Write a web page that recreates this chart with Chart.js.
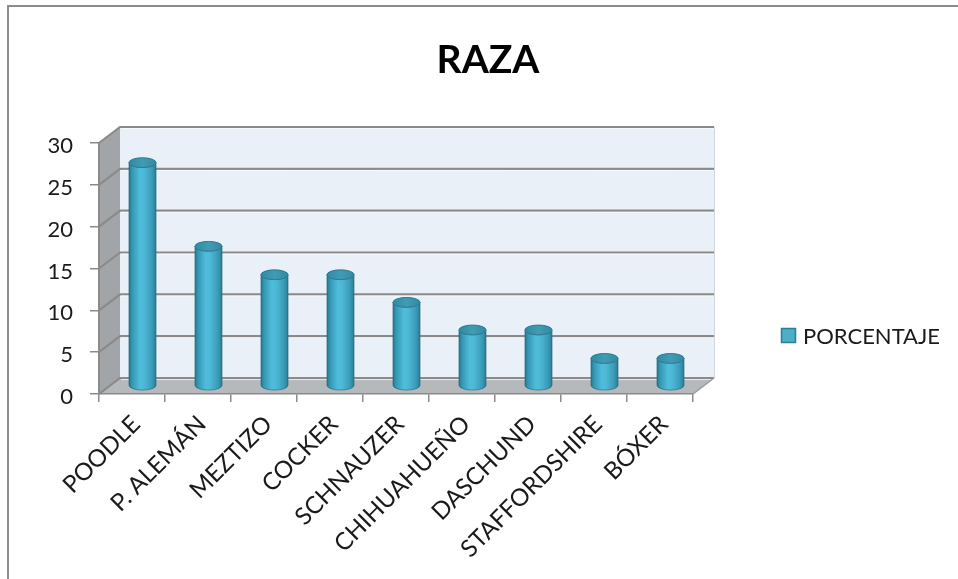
<!DOCTYPE html>
<html>
<head>
<meta charset="utf-8">
<script src="https://cdn.jsdelivr.net/npm/chart.js@4/dist/chart.umd.min.js"></script>
<style>
  html, body { margin: 0; padding: 0; background: #fff; }
  #wrap { position: relative; width: 958px; height: 579px; }
</style>
</head>
<body>
<div id="wrap"><canvas id="c" width="958" height="579"></canvas></div>
<script>
// Chart content
const chartTitle = 'RAZA';
const seriesName = 'PORCENTAJE';
const breeds = ['POODLE', 'P. ALEMÁN', 'MEZTIZO', 'COCKER', 'SCHNAUZER', 'CHIHUAHUEÑO', 'DASCHUND', 'STAFFORDSHIRE', 'BÓXER'];
const percentages = [26.7, 16.7, 13.3, 13.3, 10, 6.7, 6.7, 3.3, 3.3];
const yMin = 0;
const yMax = 30;
const yStep = 5;

// 3D depth of the plot box (back wall offset from the front plane)
const DEPTH_X = 21;
const DEPTH_Y = -16;
const FONT = 'Lato, "Liberation Sans", sans-serif';
const AXIS_GRAY = '#8a8a8a';
const BAR_COLOR = '#4bafc8';

function fillPoly(ctx, pts, color) {
  ctx.beginPath();
  ctx.moveTo(pts[0][0], pts[0][1]);
  for (let i = 1; i < pts.length; i++) ctx.lineTo(pts[i][0], pts[i][1]);
  ctx.closePath();
  ctx.fillStyle = color;
  ctx.fill();
}

// Frame, back wall, side wall, floor and gridlines
const box3d = {
  id: 'box3d',
  beforeDraw(chart) {
    const { ctx, chartArea: a, scales: { y } } = chart;
    const dx = DEPTH_X, dy = DEPTH_Y;
    ctx.save();
    ctx.fillStyle = '#ffffff';
    ctx.fillRect(0, 0, chart.width, chart.height);

    // outer frame (top and left edges)
    ctx.fillStyle = '#8c8c8c';
    ctx.fillRect(7, 5, chart.width - 7, 2);
    ctx.fillRect(7, 5, 2, chart.height - 5);

    // back wall
    ctx.fillStyle = '#e9f0f7';
    ctx.fillRect(a.left + dx, a.top + dy, a.right - a.left, a.bottom - a.top);
    // side wall
    fillPoly(ctx, [[a.left, a.top], [a.left + dx, a.top + dy], [a.left + dx, a.bottom + dy], [a.left, a.bottom]], '#a1a5a8');
    // floor
    fillPoly(ctx, [[a.left, a.bottom], [a.left + dx, a.bottom + dy], [a.right + dx, a.bottom + dy], [a.right, a.bottom]], '#b5b9bc');

    // gridlines across the side wall and back wall
    ctx.lineCap = 'butt';
    y.ticks.forEach(t => {
      const py = y.getPixelForValue(t.value);
      ctx.strokeStyle = '#8a8a8a';
      ctx.lineWidth = 2.2;
      ctx.beginPath();
      ctx.moveTo(a.left, py);
      ctx.lineTo(a.left + dx, py + dy);
      ctx.lineTo(a.right + dx, py + dy);
      ctx.stroke();
      ctx.strokeStyle = 'rgba(255,255,255,0.7)';
      ctx.lineWidth = 1;
      ctx.beginPath();
      ctx.moveTo(a.left + dx + 1, py + dy + 1.6);
      ctx.lineTo(a.right + dx, py + dy + 1.6);
      ctx.stroke();
    });

    // right edge of back wall and floor
    ctx.strokeStyle = '#cfd6dd';
    ctx.lineWidth = 1;
    ctx.beginPath();
    ctx.moveTo(a.right + dx + 0.5, a.top + dy);
    ctx.lineTo(a.right + dx + 0.5, a.bottom + dy);
    ctx.stroke();
    ctx.strokeStyle = '#9a9a9a';
    ctx.lineWidth = 1.5;
    ctx.beginPath();
    ctx.moveTo(a.right + dx, a.bottom + dy);
    ctx.lineTo(a.right, a.bottom);
    ctx.stroke();
    ctx.restore();
  },
  // bars are rendered as cylinders below
  beforeDatasetDraw() {
    return false;
  },
  afterDatasetsDraw(chart) {
    const { ctx } = chart;
    const meta = chart.getDatasetMeta(0);
    ctx.save();
    meta.data.forEach(bar => {
      const { x, y, base, width } = bar.getProps(['x', 'y', 'base', 'width'], true);
      const cx = x + DEPTH_X / 2;
      const top = y + DEPTH_Y / 2;
      const bottom = base + DEPTH_Y / 2;
      const rx = width / 2;
      const ry = rx * 0.36;

      const g = ctx.createLinearGradient(cx - rx, 0, cx + rx, 0);
      g.addColorStop(0, '#27788f');
      g.addColorStop(0.12, '#3598b4');
      g.addColorStop(0.4, '#4fbcda');
      g.addColorStop(0.55, '#4eb9d7');
      g.addColorStop(0.85, '#3a9bb7');
      g.addColorStop(1, '#2a7d95');

      ctx.beginPath();
      ctx.moveTo(cx - rx, top);
      ctx.lineTo(cx - rx, bottom);
      ctx.ellipse(cx, bottom, rx, ry, 0, Math.PI, 0, true);
      ctx.lineTo(cx + rx, top);
      ctx.ellipse(cx, top, rx, ry, 0, 0, Math.PI, false);
      ctx.closePath();
      ctx.fillStyle = g;
      ctx.fill();
      ctx.strokeStyle = 'rgba(30,100,120,0.6)';
      ctx.lineWidth = 1;
      ctx.stroke();

      const gt = ctx.createLinearGradient(cx - rx, 0, cx + rx, 0);
      gt.addColorStop(0, '#2f8aa3');
      gt.addColorStop(0.5, '#409cb5');
      gt.addColorStop(1, '#3389a2');
      ctx.beginPath();
      ctx.ellipse(cx, top, rx, ry, 0, 0, Math.PI * 2);
      ctx.fillStyle = gt;
      ctx.fill();
      ctx.strokeStyle = '#2b7b92';
      ctx.lineWidth = 1;
      ctx.stroke();
    });
    ctx.restore();
  },
  // title and legend
  afterDraw(chart) {
    const { ctx } = chart;
    ctx.save();
    ctx.fillStyle = '#000';
    ctx.font = `bold 39px ${FONT}`;
    ctx.textAlign = 'center';
    ctx.textBaseline = 'alphabetic';
    ctx.fillText(chartTitle, 488, 73);

    const ds = chart.data.datasets[0];
    ctx.fillStyle = ds.backgroundColor;
    ctx.fillRect(781, 328, 15, 15);
    ctx.strokeStyle = '#2e7d95';
    ctx.lineWidth = 1.5;
    ctx.strokeRect(781.5, 328.5, 14, 14);
    ctx.fillStyle = '#1a1a1a';
    ctx.font = `22px ${FONT}`;
    ctx.textAlign = 'left';
    ctx.textBaseline = 'middle';
    ctx.fillText(ds.label, 803, 337);
    ctx.restore();
  }
};

new Chart(document.getElementById('c'), {
  type: 'bar',
  data: {
    labels: breeds,
    datasets: [{
      label: seriesName,
      data: percentages,
      backgroundColor: BAR_COLOR,
      categoryPercentage: 1,
      barPercentage: 0.41
    }]
  },
  options: {
    responsive: false,
    animation: false,
    events: [],
    layout: { padding: { left: 0, right: 265, top: 143, bottom: 0 } },
    plugins: {
      legend: { display: false },
      title: { display: false },
      tooltip: { enabled: false }
    },
    scales: {
      x: {
        afterFit(scale) { scale.height = 579 - 394; },
        grid: { drawOnChartArea: false, drawTicks: true, tickLength: 8, color: AXIS_GRAY, lineWidth: 1.5, offset: true },
        border: { display: true, color: AXIS_GRAY, width: 1.5 },
        ticks: {
          autoSkip: false,
          maxRotation: 45,
          minRotation: 45,
          padding: 8,
          labelOffset: 4,
          color: '#1a1a1a',
          font: { family: FONT, size: 24 }
        }
      },
      y: {
        min: yMin,
        max: yMax,
        afterFit(scale) { scale.width = 99; },
        grid: { drawOnChartArea: false, drawTicks: true, tickLength: 9, color: AXIS_GRAY, lineWidth: 1.5 },
        border: { display: true, color: AXIS_GRAY, width: 2 },
        ticks: {
          stepSize: yStep,
          padding: 17,
          labelOffset: 3,
          color: '#1a1a1a',
          font: { family: FONT, size: 22 }
        }
      }
    }
  },
  plugins: [box3d]
});
</script>
</body>
</html>
